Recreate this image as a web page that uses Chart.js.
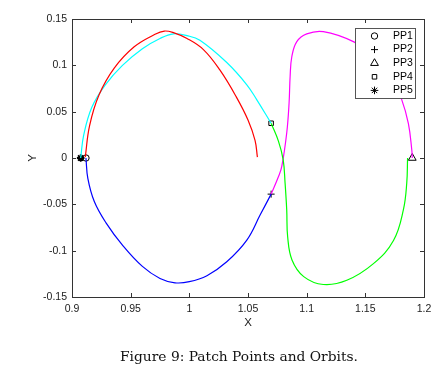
<!DOCTYPE html>
<html>
<head>
<meta charset="utf-8">
<script src="https://cdn.jsdelivr.net/npm/chart.js@4/dist/chart.umd.min.js"></script>
<style>
	body{ margin: 0; background: #fff; }
	#wrap{ position: relative; width: 442px; height: 376px; }
	#caption{
		position: absolute; left: 18px; width: 442px; top: 348px;
		text-align: center; font-family: "DejaVu Serif", serif; font-size: 13.8px; color: #111;
	}
</style>
</head>
<body>
<div id="wrap">
	<canvas id="chart" width="442" height="376"></canvas>
	<div id="caption">Figure 9: Patch Points and Orbits.</div>
</div>
<script>
// orbit arcs, [x, y]
const redArc = [[0.9113, 0.001], [0.9150, 0.035], [0.9230, 0.068], [0.9360, 0.097], [0.9530, 0.120], [0.9700, 0.133], [0.9787, 0.137], [0.987, 0.135], [0.998, 0.129], [1.012, 0.117], [1.026, 0.095], [1.040, 0.066], [1.050, 0.041], [1.056, 0.019], [1.058, 0.001]];
const cyanArc = [[0.9074, 0.0], [0.9100, 0.025], [0.9170, 0.055], [0.9284, 0.079], [0.9430, 0.100], [0.9600, 0.118], [0.9750, 0.129], [0.9864, 0.134], [0.998, 0.132], [1.009, 0.127], [1.0319, 0.103], [1.049, 0.079], [1.0574, 0.063], [1.0697, 0.0375]];
const blueArc = [[0.9119, 0.0], [0.9135, -0.022], [0.919, -0.047], [0.9290, -0.070], [0.9430, -0.094], [0.9600, -0.117], [0.9750, -0.130], [0.9878, -0.1347], [1.0000, -0.1335], [1.0150, -0.127], [1.0319, -0.112], [1.049, -0.0886], [1.0603, -0.0616], [1.0697, -0.039]];
const greenArc = [[1.0697, 0.0375], [1.076, 0.018], [1.080, -0.002], [1.0816, -0.027], [1.083, -0.056], [1.0838, -0.085], [1.0875, -0.110], [1.0975, -0.128], [1.1142, -0.1365], [1.1342, -0.132], [1.1569, -0.114], [1.174, -0.089], [1.1824, -0.056], [1.1853, -0.027], [1.186, 0.0]];
const magentaArc = [[1.190, 0.0], [1.1896, 0.0086], [1.1867, 0.037], [1.181, 0.063], [1.172, 0.088], [1.160, 0.108], [1.1398, 0.1256], [1.1142, 0.1364], [1.1001, 0.134], [1.0916, 0.1256], [1.0873, 0.109], [1.0859, 0.088], [1.085, 0.059], [1.083, 0.027], [1.0788, -0.009], [1.076, -0.020], [1.0697, -0.039]];

const patchNames = ["PP1", "PP2", "PP3", "PP4", "PP5"];
const patchX = [0.9119, 1.0697, 1.190, 1.0697, 0.9074];
const patchY = [0.0, -0.039, 0.0, 0.0375, 0.0];
const patchStyles = ["circle", "cross", "triangle", "rect", "star"];

const xTicks = [0.9, 0.95, 1, 1.05, 1.1, 1.15, 1.2];
const yTicks = [-0.15, -0.1, -0.05, 0, 0.05, 0.1, 0.15];

function toPts(arr){
	return arr.map(p => ({x: p[0], y: p[1]}));
}

function arcSet(arr, color){
	return {
		data: toPts(arr),
		showLine: true,
		borderColor: color,
		borderWidth: 1.2,
		pointRadius: 0,
		tension: 0.4,
		fill: false,
	};
}

const datasets = [
	arcSet(redArc, "#ff0000"),
	arcSet(cyanArc, "#00ffff"),
	arcSet(blueArc, "#0000ff"),
	arcSet(greenArc, "#00ff00"),
	arcSet(magentaArc, "#ff00ff"),
];

const markerSize = {circle: 3.2, cross: 3.5, triangle: 4.5, rect: 3.2, star: 3.8};

patchNames.forEach((name, i) => {
	datasets.push({
		label: name,
		data: [{x: patchX[i], y: patchY[i]}],
		showLine: false,
		pointStyle: patchStyles[i],
		pointRadius: markerSize[patchStyles[i]],
		pointBorderColor: "#000",
		pointBackgroundColor: "rgba(0,0,0,0)",
		pointBorderWidth: patchStyles[i] == "star" ? 1.8 : 1,
	});
});

const fmt = v => String(Number(v.toFixed(2)));

// matlab style box with inward ticks + legend inside the axes
const frame = {
	id: "frame",
	afterDraw(chart){
		const ctx = chart.ctx;
		const a = chart.chartArea;
		const xs = chart.scales.x, ys = chart.scales.y;
		ctx.save();
		ctx.strokeStyle = "#333";
		ctx.lineWidth = 1;
		ctx.beginPath();
		xTicks.forEach(v => {
			const px = Math.round(xs.getPixelForValue(v)) + 0.5;
			ctx.moveTo(px, a.bottom); ctx.lineTo(px, a.bottom - 4);
			ctx.moveTo(px, a.top); ctx.lineTo(px, a.top + 4);
		});
		yTicks.forEach(v => {
			const py = Math.round(ys.getPixelForValue(v)) + 0.5;
			ctx.moveTo(a.left, py); ctx.lineTo(a.left + 4, py);
			ctx.moveTo(a.right, py); ctx.lineTo(a.right - 4, py);
		});
		ctx.stroke();
		ctx.strokeRect(Math.round(a.left) + 0.5, Math.round(a.top) + 0.5, Math.round(a.right - a.left), Math.round(a.bottom - a.top));

		// legend
		const lx = a.right - 69, ly = a.top + 9, lw = 60, lh = 70;
		ctx.fillStyle = "#fff";
		ctx.fillRect(lx, ly, lw, lh);
		ctx.strokeStyle = "#555";
		ctx.strokeRect(lx + 0.5, ly + 0.5, lw, lh);
		ctx.font = "10.5px 'Liberation Sans', Arial, sans-serif";
		ctx.textBaseline = "middle";
		patchNames.forEach((name, i) => {
			const ry = ly + 8 + i * 13.6;
			ctx.fillStyle = "rgba(0,0,0,0)";
			ctx.strokeStyle = "#000";
			Chart.helpers.drawPoint(ctx, {
				pointStyle: patchStyles[i],
				radius: markerSize[patchStyles[i]],
				borderWidth: patchStyles[i] == "star" ? 1.8 : 1,
			}, lx + 19.5, ry);
			ctx.fillStyle = "#000";
			ctx.fillText(name, lx + 38, ry);
		});
		ctx.restore();
	}
};

new Chart(document.getElementById("chart").getContext("2d"), {
	type: "scatter",
	data: {datasets},
	options: {
		responsive: false,
		animation: false,
		layout: {padding: {left: 0, right: 18, top: 19, bottom: 44}},
		plugins: {legend: {display: false}, tooltip: {enabled: false}},
		scales: {
			x: {
				type: "linear",
				min: 0.9, max: 1.2,
				afterFit: s => { s.height = 35; },
				afterBuildTicks: s => { s.ticks = xTicks.map(v => ({value: v})); },
				grid: {display: false, drawTicks: false},
				border: {display: false},
				ticks: {
					padding: 6,
					color: "#222",
					font: {family: "'Liberation Sans', Arial, sans-serif", size: 10.5},
					callback: v => fmt(v),
				},
				title: {display: true, text: "X", color: "#222", padding: {top: 0, bottom: 2},
					font: {family: "'Liberation Sans', Arial, sans-serif", size: 11.5}},
			},
			y: {
				type: "linear",
				min: -0.15, max: 0.15,
				afterFit: s => { s.width = 72; },
				afterBuildTicks: s => { s.ticks = yTicks.map(v => ({value: v})); },
				grid: {display: false, drawTicks: false},
				border: {display: false},
				ticks: {
					padding: 5,
					color: "#222",
					font: {family: "'Liberation Sans', Arial, sans-serif", size: 10.5},
					callback: v => fmt(v),
				},
				title: {display: true, text: "Y", color: "#222", padding: {top: 26, bottom: 0},
					font: {family: "'Liberation Sans', Arial, sans-serif", size: 11.5}},
			},
		},
	},
	plugins: [frame],
});
</script>
</body>
</html>
